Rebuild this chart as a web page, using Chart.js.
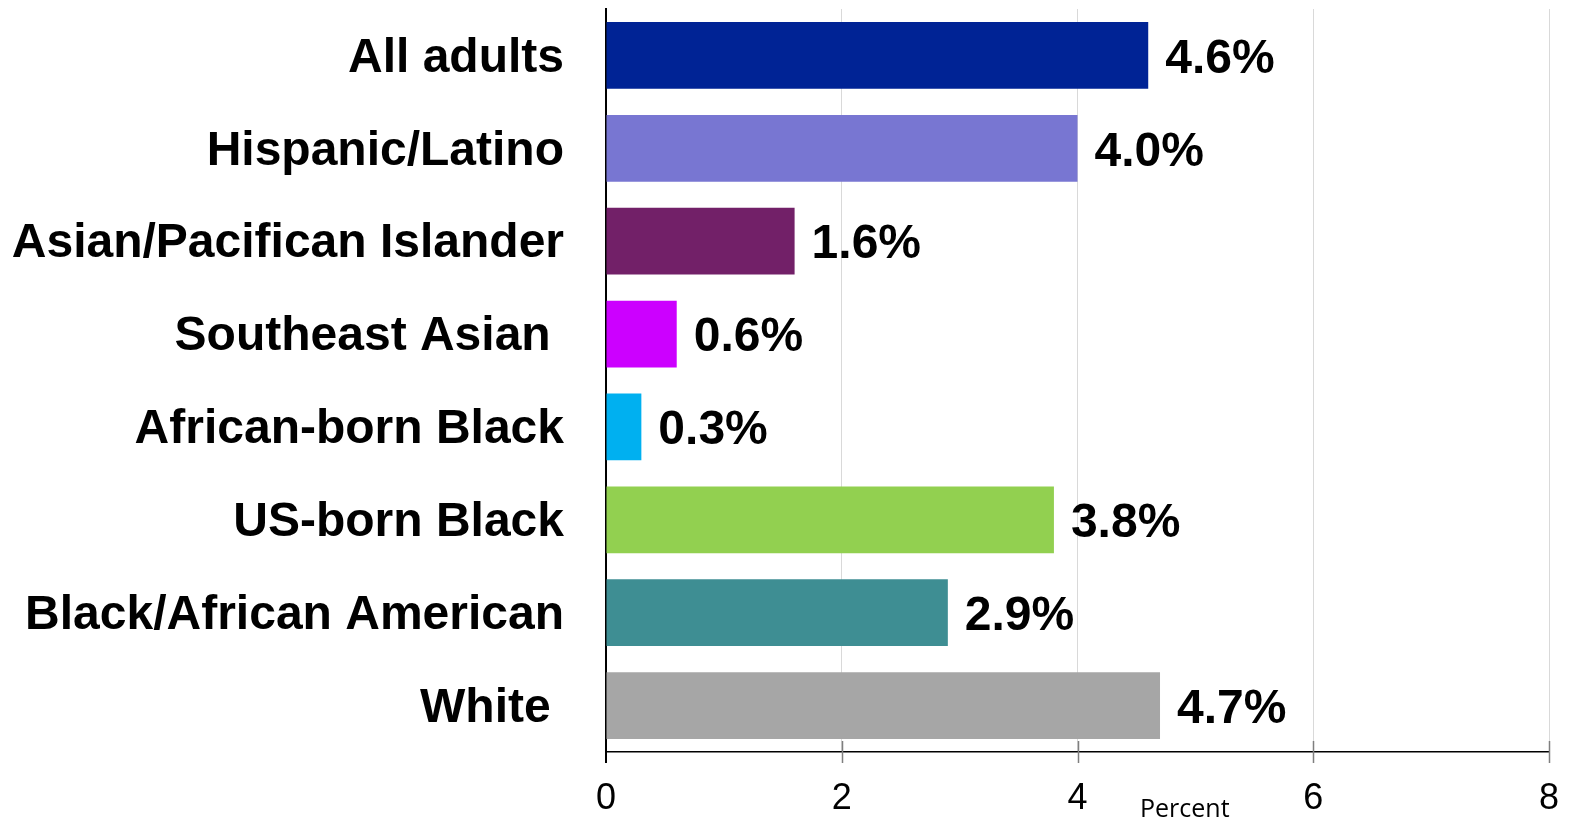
<!DOCTYPE html>
<html>
<head>
<meta charset="utf-8">
<script src="https://cdn.jsdelivr.net/npm/chart.js@4/dist/chart.umd.min.js"></script>
<style>
html,body{margin:0;padding:0;background:#fff;overflow:hidden;}
canvas{display:block;}
</style>
</head>
<body>
<canvas id="c" width="1573" height="819"></canvas>
<script>
const categories = ["All adults", "Hispanic/Latino", "Asian/Pacifican Islander", "Southeast Asian ", "African-born Black", "US-born Black", "Black/African American", "White "];
const values = [4.6, 4.0, 1.6, 0.6, 0.3, 3.8, 2.9, 4.7];
const valueLabels = ["4.6%", "4.0%", "1.6%", "0.6%", "0.3%", "3.8%", "2.9%", "4.7%"];
const barColors = ["#002395", "#7876D2", "#722068", "#CC00FF", "#00B0F0", "#92D050", "#3E8E93", "#A6A6A6"];
const xTicks = [0, 2, 4, 6, 8];
const axisTitle = "Percent";

const decor = {
  id: 'decor',
  afterDraw(chart) {
    const ctx = chart.ctx;
    const xs = chart.scales.x;
    const area = chart.chartArea;
    ctx.save();
    ctx.strokeStyle = '#7f7f7f';
    ctx.lineWidth = 1.5;
    xTicks.forEach(v => {
      if (v === 0) return;
      const px = Math.round(xs.getPixelForValue(v)) + 0.5;
      ctx.beginPath();
      ctx.moveTo(px, area.bottom - 11);
      ctx.lineTo(px, area.bottom + 11);
      ctx.stroke();
    });
    ctx.strokeStyle = '#000';
    ctx.lineWidth = 2;
    const x0 = xs.getPixelForValue(0);
    ctx.beginPath();
    ctx.moveTo(x0, area.bottom);
    ctx.lineTo(x0, area.bottom + 11);
    ctx.stroke();
    const meta = chart.getDatasetMeta(0);
    ctx.fillStyle = '#000';
    ctx.font = 'bold 48px "Liberation Sans", Arial, sans-serif';
    ctx.textAlign = 'left';
    ctx.textBaseline = 'middle';
    meta.data.forEach((el, i) => {
      ctx.fillText(valueLabels[i], el.x + 17, el.y + 4);
    });
    ctx.font = '25px "Open Sans", sans-serif';
    ctx.textBaseline = 'alphabetic';
    ctx.fillText(axisTitle, 1140, 817);
    ctx.restore();
  }
};

new Chart(document.getElementById('c'), {
  type: 'bar',
  data: {
    labels: categories,
    datasets: [{
      data: values,
      backgroundColor: barColors,
      borderWidth: 0,
      categoryPercentage: 1.0,
      barPercentage: 0.718
    }]
  },
  options: {
    indexAxis: 'y',
    responsive: false,
    devicePixelRatio: 1,
    animation: false,
    layout: { padding: { left: 0, right: 24, top: 9, bottom: 0 } },
    plugins: { legend: { display: false }, tooltip: { enabled: false } },
    scales: {
      x: {
        type: 'linear',
        min: 0,
        max: 8,
        afterBuildTicks(scale) { scale.ticks = xTicks.map(v => ({ value: v })); },
        afterFit(scale) {
          scale.height = 67;
          scale.paddingLeft = 0; scale.paddingRight = 0;
          scale.paddingTop = 0; scale.paddingBottom = 0;
        },
        grid: { color: '#D9D9D9', lineWidth: 1, drawTicks: false },
        border: { display: true, color: '#000', width: 1.5 },
        ticks: {
          padding: 25,
          color: '#000',
          font: { family: '"Liberation Sans", Arial, sans-serif', size: 36 }
        }
      },
      y: {
        type: 'category',
        afterFit(scale) {
          scale.width = 606;
          scale.paddingTop = 0; scale.paddingBottom = 0;
          scale.paddingLeft = 0; scale.paddingRight = 0;
        },
        grid: { display: false, drawTicks: false },
        border: { display: true, color: '#000', width: 2 },
        ticks: {
          padding: 42,
          labelOffset: 3,
          color: '#000',
          font: { family: '"Liberation Sans", Arial, sans-serif', size: 48, weight: 'bold' }
        }
      }
    }
  },
  plugins: [decor]
});
</script>
</body>
</html>
